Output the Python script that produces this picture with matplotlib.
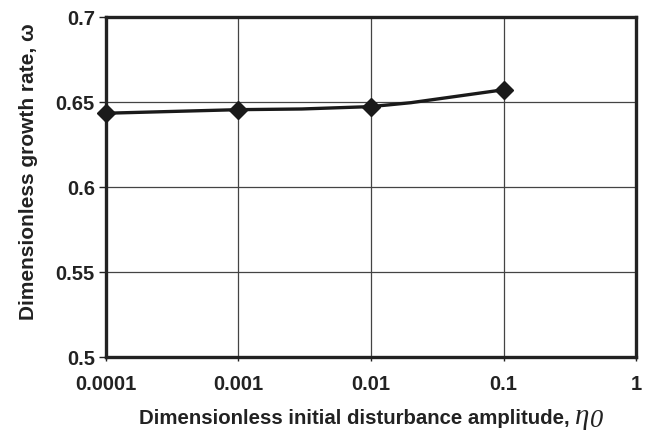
import matplotlib
matplotlib.use("Agg")
import matplotlib.pyplot as plt
import numpy as np

plt.rcParams['font.family'] = ['Liberation Sans', 'DejaVu Sans']

# data (line passes through all; markers on decade points)
amplitude = [0.0001, 0.001, 0.003, 0.01, 0.02, 0.1]
growth_rate = [0.6434, 0.6455, 0.6459, 0.6473, 0.6496, 0.6572]
marked = [0, 1, 3, 5]

x_ticks = [0.0001, 0.001, 0.01, 0.1, 1]
x_tick_labels = ['0.0001', '0.001', '0.01', '0.1', '1']
y_ticks = [0.5, 0.55, 0.6, 0.65, 0.7]
y_tick_labels = ['0.5', '0.55', '0.6', '0.65', '0.7']

fig = plt.figure(figsize=(6.51, 4.34), dpi=100)
ax = fig.add_axes([0.1628, 0.1774, 0.977 - 0.1628, 0.9608 - 0.1774])

ax.plot(amplitude, growth_rate, color='#1a1a1a', lw=2.4, marker='D',
        markersize=9, markevery=marked, markerfacecolor='#1a1a1a',
        markeredgecolor='#1a1a1a', zorder=5, clip_on=False)

ax.set_xscale('log')
ax.set_xlim(0.0001, 1)
ax.set_ylim(0.5, 0.7)
ax.set_xticks(x_ticks)
ax.set_xticklabels(x_tick_labels)
ax.minorticks_off()
ax.set_yticks(y_ticks)
ax.set_yticklabels(y_tick_labels)

ax.grid(True, color='#444444', lw=0.9)
ax.set_axisbelow(True)

for s in ax.spines.values():
    s.set_linewidth(2.4)
    s.set_color('#222222')

ax.tick_params(axis='y', direction='out', length=5, width=1, colors='#222222',
               labelsize=14.5, pad=3)
ax.tick_params(axis='x', direction='out', length=3, width=1, colors='#222222',
               labelsize=14.5, pad=10)
for lab in ax.get_xticklabels() + ax.get_yticklabels():
    lab.set_fontweight('bold')
    lab.set_color('#222222')

ax.set_ylabel('Dimensionless growth rate, ω', fontsize=15, fontweight='bold',
              color='#222222')
ax.yaxis.set_label_coords(-0.128, 0.545)

# x label: bold text followed by larger italic eta_0, centred under the axes
W = fig.get_figwidth() * fig.dpi
base_y = 0.022
serif = ['Liberation Serif', 'DejaVu Serif']
t_main = fig.text(0, base_y, 'Dimensionless initial disturbance amplitude, ',
                  fontsize=14.7, fontweight='bold', color='#222222',
                  ha='left', va='baseline')
t_eta = fig.text(0, base_y, 'η', fontsize=21, fontstyle='italic', family=serif,
                 color='#222222', ha='left', va='baseline')
t_sub = fig.text(0, base_y - 3 / 434, '0', fontsize=19, fontstyle='italic',
                 family=serif, color='#222222', ha='left', va='baseline')
fig.canvas.draw()
r = fig.canvas.get_renderer()
w_main = t_main.get_window_extent(r).width
w_eta = t_eta.get_window_extent(r).width
w_sub = t_sub.get_window_extent(r).width
total = w_main + w_eta + w_sub
ax_bb = ax.get_window_extent(r)
cx = (ax_bb.x0 + ax_bb.x1) / 2
x0 = cx - total / 2
t_main.set_x(x0 / W)
t_eta.set_x((x0 + w_main) / W)
t_sub.set_x((x0 + w_main + w_eta + 0.5) / W)

fig.savefig('out.png', dpi=100, facecolor='white')
